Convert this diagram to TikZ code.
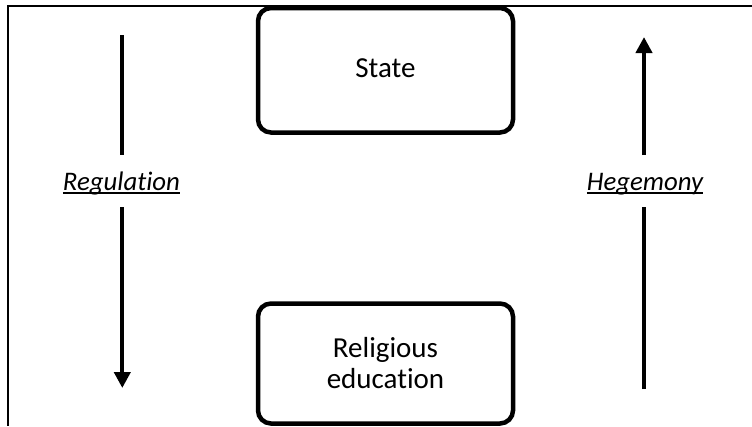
\documentclass[tikz,border=0pt]{standalone}
\usepackage{fontspec}
\setmainfont[RawFeature={-liga;-clig;-dlig}]{Carlito}
\usetikzlibrary{arrows.meta}
\newcommand\myul[1]{\setbox0\hbox{#1}\rlap{\rule[-4bp]{\wd0}{2bp}}\box0}
\tikzset{
  box/.style={draw, line width=4.5bp, rounded corners=13bp, minimum width=255bp, inner sep=0pt, align=center, font=\fontsize{29bp}{31bp}\selectfont},
  flow/.style={line width=4bp},
  lbl/.style={anchor=base, inner sep=0pt, font=\fontsize{26.8bp}{31bp}\selectfont\itshape},
  frame/.style={line width=1.6bp}
}
\begin{document}
\begin{tikzpicture}[x=1bp, y=-1bp]
\useasboundingbox (0,0) rectangle (752,426);
% frame
\draw[frame] (752,6) -- (8,6) -- (8,426);
% boxes
\node[box, minimum height=124.5bp, text height=19bp, text depth=5.5bp] (state) at (385.5,70.25) {State};
\node[box, minimum height=120bp] (relig) at (385.5,363.5) {Religious\\education};
% labels
\node[lbl] (reg) at (121.5,190) {\myul{Regulation}};
\node[lbl] (heg) at (645,190) {\myul{Hegemony}};
% connector ends
\coordinate (regA) at (122.3,35);
\coordinate (regB) at (122.3,155);
\coordinate (regC) at (122.3,207);
\coordinate (regD) at (122.3,388);
\coordinate (hegA) at (644,389);
\coordinate (hegB) at (644,207);
\coordinate (hegC) at (644,155);
\coordinate (hegD) at (644,37);
\draw[flow] (regA) -- (regB);
\draw[flow, -{Triangle[width=16bp, length=16bp]}] (regC) -- (regD);
\draw[flow] (hegA) -- (hegB);
\draw[flow, -{Triangle[width=16bp, length=16bp]}] (hegC) -- (hegD);
\end{tikzpicture}
\end{document}
